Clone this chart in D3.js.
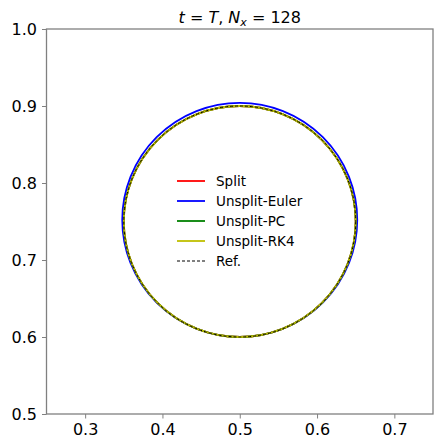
<!DOCTYPE html>
<html>
<head>
<meta charset="utf-8">
<script src="https://cdn.jsdelivr.net/npm/d3@7"></script>
<style>
  body { margin: 0; background: #fff; }
  svg { font-family: "DejaVu Sans", sans-serif; }
</style>
</head>
<body>
<div id="chart"></div>
<script>
// figure size and axes box (pixels)
const width = 448;
const height = 448;
const margin = {left: 46.5, right: 15, top: 29, bottom: 34};

// data: each scheme ends up as a circle
const names = ["Split", "Unsplit-Euler", "Unsplit-PC", "Unsplit-RK4", "Ref."];
const centerX = [0.5, 0.5, 0.5, 0.5, 0.5];
const centerY = [0.75, 0.752, 0.75, 0.75, 0.75];
const radius = [0.15, 0.152, 0.15, 0.15, 0.15];
const colors = ["#ff0000", "#0000ff", "#008000", "#bfbf00", "#000000"];
const dashes = [null, null, null, null, "3,2"];

const xTicks = [0.3, 0.4, 0.5, 0.6, 0.7];
const yTicks = [0.5, 0.6, 0.7, 0.8, 0.9, 1.0];

const svg = d3.select("#chart")
  .append("svg")
  .attr("width", width)
  .attr("height", height);

const xScale = d3.scaleLinear()
  .domain([0.25, 0.75])
  .range([margin.left, width - margin.right]);

const yScale = d3.scaleLinear()
  .domain([0.5, 1.0])
  .range([height - margin.bottom, margin.top]);

// axes
const xAxis = svg.append("g")
  .attr("transform", `translate(0,${height - margin.bottom})`)
  .call(d3.axisBottom(xScale).tickValues(xTicks).tickFormat(d3.format(".1f"))
          .tickSize(4.5).tickPadding(5));

const yAxis = svg.append("g")
  .attr("transform", `translate(${margin.left},0)`)
  .call(d3.axisLeft(yScale).tickValues(yTicks).tickFormat(d3.format(".1f"))
          .tickSize(4.5).tickPadding(5));

[xAxis, yAxis].forEach(g => {
  g.select(".domain").remove();
  g.selectAll(".tick line").attr("stroke", "#808080").attr("stroke-width", 1);
  g.selectAll(".tick text")
    .attr("fill", "#000")
    .attr("font-size", "16px")
    .attr("font-family", "DejaVu Sans");
});

// curves
const series = names.map((n, i) => ({
  name: n, cx: centerX[i], cy: centerY[i], r: radius[i],
  color: colors[i], dash: dashes[i]
}));

svg.append("g")
  .selectAll("ellipse")
  .data(series)
  .enter()
  .append("ellipse")
    .attr("cx", d => xScale(d.cx))
    .attr("cy", d => yScale(d.cy))
    .attr("rx", d => xScale(d.cx + d.r) - xScale(d.cx))
    .attr("ry", d => yScale(d.cy) - yScale(d.cy + d.r))
    .attr("fill", "none")
    .attr("stroke", d => d.color)
    .attr("stroke-width", d => d.dash ? 1 : 1.8)
    .attr("stroke-dasharray", d => d.dash);

// frame
svg.append("rect")
  .attr("x", margin.left)
  .attr("y", margin.top)
  .attr("width", width - margin.left - margin.right)
  .attr("height", height - margin.top - margin.bottom)
  .attr("fill", "none")
  .attr("stroke", "#808080")
  .attr("stroke-width", 1.3);

// legend
const legend = svg.append("g")
  .attr("transform", "translate(177,181)");

const rows = legend.selectAll("g")
  .data(series)
  .enter()
  .append("g")
    .attr("transform", (d, i) => `translate(0,${i * 20})`);

rows.append("line")
  .attr("x1", 0).attr("x2", 28)
  .attr("y1", 0).attr("y2", 0)
  .attr("stroke", d => d.color)
  .attr("stroke-width", d => d.dash ? 1 : 1.8)
  .attr("stroke-dasharray", d => d.dash);

rows.append("text")
  .attr("x", 39)
  .attr("y", 0)
  .attr("dy", "0.35em")
  .attr("font-size", "13.5px")
  .text(d => d.name);

// title
const title = svg.append("text")
  .attr("x", (margin.left + width - margin.right) / 2)
  .attr("y", 22.5)
  .attr("text-anchor", "middle")
  .attr("font-size", "16px");

title.append("tspan").attr("font-style", "italic").text("t");
title.append("tspan").text(" = ");
title.append("tspan").attr("font-style", "italic").text("T");
title.append("tspan").text(", ");
title.append("tspan").attr("font-style", "italic").text("N");
title.append("tspan").attr("font-style", "italic").attr("font-size", "11px")
  .attr("dy", 3).text("x");
title.append("tspan").attr("dy", -3).text(" = 128");
</script>
</body>
</html>
